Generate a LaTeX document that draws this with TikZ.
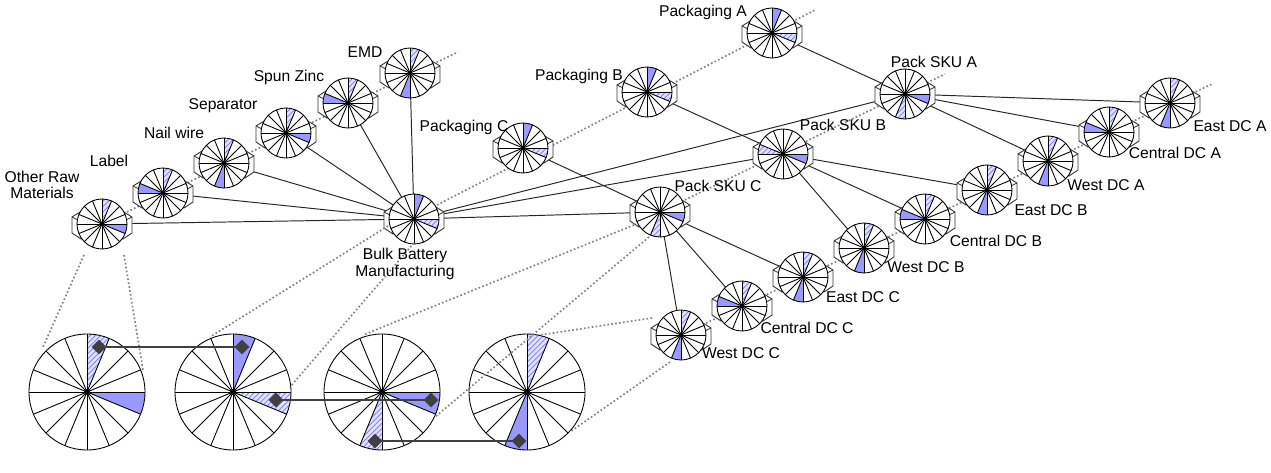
\documentclass[tikz,border=0pt]{standalone}
\usepackage{fontspec}
\setmainfont{Liberation Sans}
\usetikzlibrary{patterns,shapes.geometric,calc}
\definecolor{solidb}{RGB}{153,153,255}
\definecolor{hatchb}{RGB}{120,120,255}
\definecolor{dk}{RGB}{64,64,64}
\definecolor{dotc}{RGB}{130,130,130}
\tikzset{
  lbl/.style={font=\fontsize{8.9}{9.3}\selectfont, align=center, inner sep=0pt},
  conn/.style={draw=black!85, line width=0.55pt},
  dotline/.style={draw=dotc, line width=0.95pt, dash pattern=on 0.95pt off 1.3pt},
  boxst/.style={draw=black!80, line width=0.5pt, fill=white},
  hatchfill/.style={preaction={fill=solidb!30}, pattern=north east lines, pattern color=hatchb},
  solidfill/.style={fill=solidb},
  spoke/.style={draw=black, line width=0.5pt},
  thickl/.style={draw=dk, line width=1.7pt},
  diam/.style={diamond, fill=dk, minimum size=0.3cm, inner sep=0pt}
}
% #1 radius, #2 hatched start (tikz angle), #3 solid start
\newcommand\MyPie[3]{%
  \fill[white] (0,0) circle (#1);
  \path[hatchfill] (0,0) -- (#2:#1) arc[start angle=#2, delta angle=22.5, radius=#1] -- cycle;
  \path[solidfill] (0,0) -- (#3:#1) arc[start angle=#3, delta angle=22.5, radius=#1] -- cycle;
  \foreach \a in {0,22.5,...,170} \draw[spoke] (\a:#1) -- (\a+180:#1);
  \draw[spoke] (0,0) circle (#1);
}
% #1 name, #2 x, #3 y, #4 hatched, #5 solid
\newcommand\SNode[5]{%
  \begin{scope}[shift={(#2,#3)}]
    \draw[boxst] (-30,-7) -- (-21,-12.5) -- (21,-12.5) -- (30,-7) -- (30,9) -- (21,15) -- (-21,15) -- (-30,9) -- cycle;
    \draw[boxst, fill=none] (-30,-7) -- (-21,-2.5) -- (-21,15) (30,-7) -- (21,-2.5) -- (21,15);
    \MyPie{25}{#4}{#5}
    \fill (0,0) circle (2);
    \coordinate (#1) at (0,0);
  \end{scope}}
\newcommand\BNode[4]{%
  \begin{scope}[shift={(#2,#3)}]
    \MyPie{58}{#4}{\BSolid}
    \fill (0,0) circle (3);
    \coordinate (#1) at (0,0);
  \end{scope}}
\begin{document}
\begin{tikzpicture}[x=0.02cm,y=-0.02cm]
\useasboundingbox (0,0) rectangle (1271,473);
% node positions
\coordinate (pORM) at (102,224);
\coordinate (pLab) at (163,193);
\coordinate (pNail) at (224,163);
\coordinate (pSep) at (286,133);
\coordinate (pZinc) at (348,103);
\coordinate (pEMD) at (410,73);
\coordinate (pBulk) at (414,219);
\coordinate (pPkC) at (523,148);
\coordinate (pPkB) at (647,92);
\coordinate (pPkA) at (772,33);
\coordinate (pSkC) at (660,212);
\coordinate (pSkB) at (783,154);
\coordinate (pSkA) at (905,94);
\coordinate (pWC) at (681,335);
\coordinate (pCC) at (742,306);
\coordinate (pEC) at (803,277);
\coordinate (pWB) at (864,248);
\coordinate (pCB) at (925,219);
\coordinate (pEB) at (987,190);
\coordinate (pWA) at (1048,161);
\coordinate (pCA) at (1109,132);
\coordinate (pEA) at (1170,103);
% row axis ends
\coordinate (rawEnd) at (458,52);
\coordinate (pkStart) at (437,205);
\coordinate (pkEnd) at (815,10);
\coordinate (skEnd) at (945,74);
\coordinate (dcEnd) at (1212,84);
% dotted row lines
\draw[dotline] (pORM) -- (rawEnd);
\draw[dotline] (pkStart) -- (pkEnd);
\draw[dotline] (pSkC) -- (skEnd);
\draw[dotline] (pWC) -- (dcEnd);
% connectors
\foreach \s in {pORM,pLab,pNail,pSep,pZinc,pEMD} \draw[conn] (\s) -- (pBulk);
\foreach \t in {pSkC,pSkB,pSkA} \draw[conn] (pBulk) -- (\t);
\draw[conn] (pPkC) -- (pSkC);
\draw[conn] (pPkB) -- (pSkB);
\draw[conn] (pPkA) -- (pSkA);
\foreach \t in {pWC,pCC,pEC} \draw[conn] (pSkC) -- (\t);
\foreach \t in {pWB,pCB,pEB} \draw[conn] (pSkB) -- (\t);
\foreach \t in {pWA,pCA,pEA} \draw[conn] (pSkA) -- (\t);
% small nodes
\SNode{ORM}{102}{224}{270}{0}
\SNode{Lab}{163}{193}{270}{180}
\SNode{Nail}{224}{163}{270}{90}
\SNode{Sep}{286}{133}{270}{0}
\SNode{Zinc}{348}{103}{270}{180}
\SNode{EMD}{410}{73}{270}{90}
\SNode{Bulk}{414}{219}{0}{270}
\SNode{PkC}{523}{148}{0}{270}
\SNode{PkB}{647}{92}{0}{270}
\SNode{PkA}{772}{33}{0}{270}
\SNode{SkC}{660}{212}{90}{0}
\SNode{SkB}{783}{154}{180}{0}
\SNode{SkA}{905}{94}{90}{0}
\SNode{WC}{681}{335}{270}{90}
\SNode{CC}{742}{306}{270}{180}
\SNode{EC}{803}{277}{270}{90}
\SNode{WB}{864}{248}{270}{90}
\SNode{CB}{925}{219}{270}{180}
\SNode{EB}{987}{190}{270}{90}
\SNode{WA}{1048}{161}{270}{90}
\SNode{CA}{1109}{132}{270}{180}
\SNode{EA}{1170}{103}{270}{90}
% big circles
\def\BSolid{0}\BNode{B1}{87}{392}{270}
\def\BSolid{270}\BNode{B2}{233}{392}{0}
\def\BSolid{0}\BNode{B3}{382}{392}{90}
\def\BSolid{90}\BNode{B4}{527}{392}{270}
% magnifier lines
\coordinate (m1a) at (84,255); \coordinate (m1b) at (124,255);
\coordinate (n1a) at (43,347); \coordinate (n1b) at (143,370);
\coordinate (m2a) at (388,226); \coordinate (m2b) at (414,243);
\coordinate (n2a) at (210,337); \coordinate (n2b) at (290,387);
\coordinate (m3a) at (634,225); \coordinate (m3b) at (649,237);
\coordinate (n3a) at (363,335); \coordinate (n3b) at (435,417);
\coordinate (m4a) at (652,318); \coordinate (m4b) at (670,362);
\coordinate (n4a) at (540,335); \coordinate (n4b) at (570,432);
\draw[dotline] (m1a) -- (n1a); \draw[dotline] (m1b) -- (n1b);
\draw[dotline] (m2a) -- (n2a); \draw[dotline] (m2b) -- (n2b);
\draw[dotline] (m3a) -- (n3a); \draw[dotline] (m3b) -- (n3b);
\draw[dotline] (m4a) -- (n4a); \draw[dotline] (m4b) -- (n4b);
% diamond path
\coordinate (q1) at (99,347); \coordinate (q2) at (242,347);
\coordinate (q3) at (276,400); \coordinate (q4) at (431,400);
\coordinate (q5) at (375,441); \coordinate (q6) at (519,441);
\draw[thickl] (q1) -- (q2);
\draw[thickl] (q3) -- (q4);
\draw[thickl] (q5) -- (q6);
\foreach \q in {q1,q2,q3,q4,q5,q6} \node[diam] (d\q) at (\q) {};
% labels
\node[lbl] (tORM) at (42,185) {Other Raw\\Materials};
\node[lbl] (tLab) at (109,161) {Label};
\node[lbl] (tNail) at (174,133) {Nail wire};
\node[lbl] (tSep) at (223,106) {Separator};
\node[lbl] (tZinc) at (289,77) {Spun Zinc};
\node[lbl] (tEMD) at (365,52) {EMD};
\node[lbl] (tBulk) at (405,264) {Bulk Battery\\Manufacturing};
\node[lbl] (tPkC) at (464,127) {Packaging C};
\node[lbl] (tPkB) at (579,76) {Packaging B};
\node[lbl] (tPkA) at (703,12) {Packaging A};
\node[lbl] (tSkA) at (934,62) {Pack SKU A};
\node[lbl] (tSkB) at (843,125) {Pack SKU B};
\node[lbl] (tSkC) at (718,186) {Pack SKU C};
\node[lbl] (tEA) at (1230,126) {East DC A};
\node[lbl] (tCA) at (1175,153) {Central DC A};
\node[lbl] (tWA) at (1106,185) {West DC A};
\node[lbl] (tEB) at (1051,210) {East DC B};
\node[lbl] (tCB) at (996,241) {Central DC B};
\node[lbl] (tWB) at (926,267) {West DC B};
\node[lbl] (tEC) at (863,297) {East DC C};
\node[lbl] (tCC) at (807,328) {Central DC C};
\node[lbl] (tWC) at (741,353) {West DC C};
\end{tikzpicture}
\end{document}
